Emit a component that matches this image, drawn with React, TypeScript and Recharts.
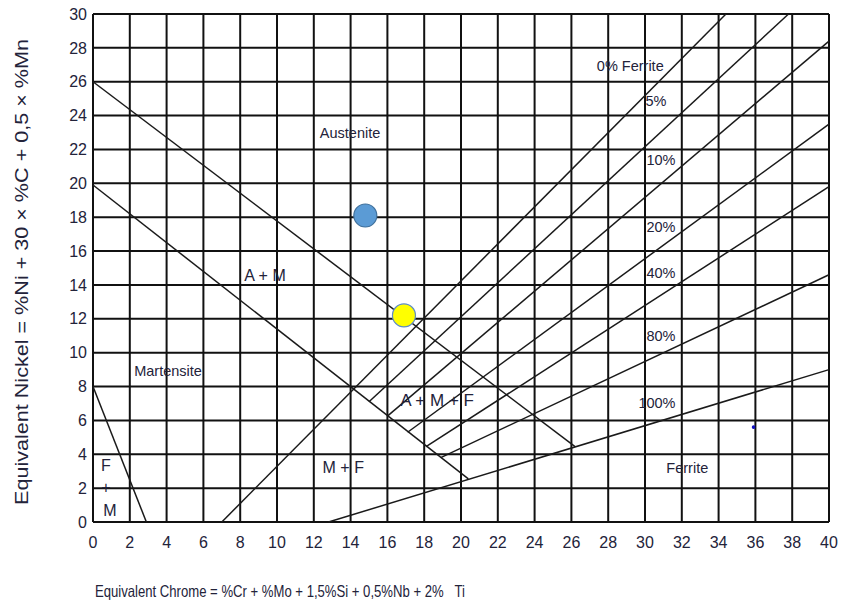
import { ComposedChart, XAxis, YAxis, CartesianGrid, ReferenceLine, Scatter, Label } from "recharts";

const X_TICKS = [0, 2, 4, 6, 8, 10, 12, 14, 16, 18, 20, 22, 24, 26, 28, 30, 32, 34, 36, 38, 40];
const Y_TICKS = [0, 2, 4, 6, 8, 10, 12, 14, 16, 18, 20, 22, 24, 26, 28, 30];

// phase boundaries (Cr eq, Ni eq)
const austeniteBoundary = [{ x: 0, y: 26 }, { x: 26.2, y: 4.45 }];
const martensiteBoundary = [{ x: 0, y: 19.9 }, { x: 20.4, y: 2.55 }];
const fmBoundary = [{ x: 0, y: 8 }, { x: 2.9, y: 0 }];

// iso-ferrite lines
const ferrite0 = [{ x: 7, y: 0 }, { x: 34.4, y: 30 }];
const ferrite5 = [{ x: 15.0, y: 7.1 }, { x: 37.8, y: 30 }];
const ferrite10 = [{ x: 16.0, y: 6.25 }, { x: 40, y: 28.4 }];
const ferrite20 = [{ x: 17.1, y: 5.3 }, { x: 40, y: 23.5 }];
const ferrite40 = [{ x: 18.1, y: 4.45 }, { x: 40, y: 19.8 }];
const ferrite80 = [{ x: 18.9, y: 3.8 }, { x: 40, y: 14.6 }];
const ferrite100 = [{ x: 12.8, y: 0 }, { x: 40, y: 9.0 }];

const diagramLines = [
  austeniteBoundary, martensiteBoundary, fmBoundary,
  ferrite0, ferrite5, ferrite10, ferrite20, ferrite40, ferrite80, ferrite100,
];

// welded materials
const blueSample = [{ x: 14.8, y: 18.1 }];
const yellowSample = [{ x: 16.9, y: 12.2 }];
const strayDot = [{ x: 35.9, y: 5.6 }];

const regionLabels = [
  { x: 13.97, y: 22.97, text: "Austenite", size: 14.5 },
  { x: 9.35, y: 14.58, text: "A + M", size: 16 },
  { x: 4.08, y: 8.9, text: "Martensite", size: 14.5 },
  { x: 18.7, y: 7.19, text: "A + M + F", size: 17 },
  { x: 13.6, y: 3.23, text: "M + F", size: 16 },
  { x: 32.3, y: 3.2, text: "Ferrite", size: 14.5 },
  { x: 0.7, y: 3.35, text: "F", size: 16 },
  { x: 0.7, y: 2.05, text: "+", size: 16 },
  { x: 0.92, y: 0.69, text: "M", size: 16 },
];

const ferriteLabels = [
  { x: 29.2, y: 26.9, text: "0% Ferrite", size: 14.5 },
  { x: 30.6, y: 24.85, text: "5%", size: 14.5 },
  { x: 30.87, y: 21.4, text: "10%", size: 14.5 },
  { x: 30.87, y: 17.4, text: "20%", size: 14.5 },
  { x: 30.87, y: 14.7, text: "40%", size: 14.5 },
  { x: 30.87, y: 11.0, text: "80%", size: 14.5 },
  { x: 30.65, y: 7.0, text: "100%", size: 14.5 },
];

const FONT = "'Liberation Sans', Arial, sans-serif";
const TEXT = "#23233a";

function TextMark(props: any) {
  const { cx, cy, payload } = props;
  return (
    <text x={cx} y={cy} textAnchor="middle" dominantBaseline="central" fontFamily={FONT} fontSize={payload.size} fill={TEXT}>
      {payload.text}
    </text>
  );
}

function Dot(fill: string, stroke: string, r: number) {
  return (props: any) => <circle cx={props.cx} cy={props.cy} r={r} fill={fill} stroke={stroke} strokeWidth={1.2} />;
}

export default function App() {
  return (
    <div style={{ position: "absolute", left: 0, top: 0, background: "#fff" }}>
      <ComposedChart width={842} height={605} margin={{ top: 14, right: 13, bottom: 0, left: 0 }}>
        <CartesianGrid stroke="#111" strokeWidth={2} />
        <XAxis
          type="number"
          dataKey="x"
          domain={[0, 40]}
          ticks={X_TICKS}
          interval={0}
          height={83}
          axisLine={false}
          tickLine={false}
          tickSize={0}
          tickMargin={15}
          tick={{ fontFamily: FONT, fontSize: 16, fill: TEXT }}
        >
          <Label
            content={(p: any) => (
              <text x={p.viewBox.x + 2} y={p.viewBox.y + 75} fontFamily={FONT} fontSize={16.5} fill={TEXT} textLength={370} lengthAdjust="spacingAndGlyphs" style={{ whiteSpace: "pre" }}>
                {"Equivalent Chrome = %Cr + %Mo + 1,5%Si + 0,5%Nb + 2%\u00a0\u00a0\u00a0Ti"}
              </text>
            )}
          />
        </XAxis>
        <YAxis
          type="number"
          dataKey="y"
          domain={[0, 30]}
          ticks={Y_TICKS}
          interval={0}
          width={93}
          axisLine={false}
          tickLine={false}
          tickSize={0}
          tickMargin={6}
          tick={{ fontFamily: FONT, fontSize: 16, fill: TEXT }}
        >
          <Label
            content={(p: any) => {
              const cx = p.viewBox.x + 22;
              const cy = p.viewBox.y + p.viewBox.height / 2 + 4;
              return (
                <text x={cx} y={cy} transform={`rotate(-90, ${cx}, ${cy})`} textAnchor="middle" dominantBaseline="central" fontFamily={FONT} fontSize={17.5} fill={TEXT} textLength={466} lengthAdjust="spacingAndGlyphs">
                  Equivalent Nickel = %Ni + 30 × %C + 0,5 × %Mn
                </text>
              );
            }}
          />
        </YAxis>

        {diagramLines.map((seg, i) => (
          <ReferenceLine key={i} segment={seg} stroke="#1a1a1a" strokeWidth={1.5} />
        ))}

        <Scatter data={regionLabels} shape={TextMark} isAnimationActive={false} />
        <Scatter data={ferriteLabels} shape={TextMark} isAnimationActive={false} />
        <Scatter data={blueSample} shape={Dot("#5b9bd5", "#41719c", 11.5)} isAnimationActive={false} />
        <Scatter data={yellowSample} shape={Dot("#ffff00", "#5f8cc4", 11.5)} isAnimationActive={false} />
        <Scatter data={strayDot} shape={Dot("#1010c0", "#1010c0", 1.2)} isAnimationActive={false} />
      </ComposedChart>
    </div>
  );
}
